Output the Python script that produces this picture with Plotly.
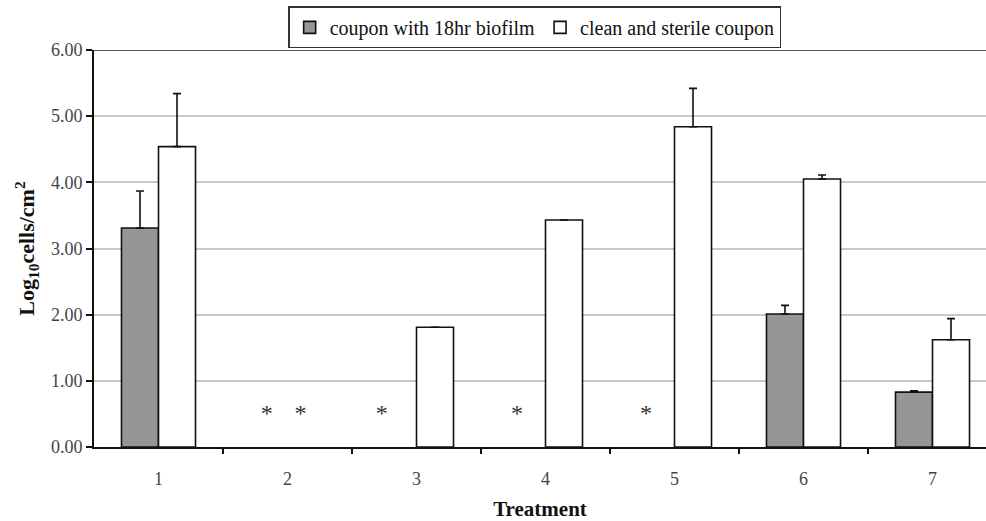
import plotly.graph_objects as go

treatments = [1, 2, 3, 4, 5, 6, 7]
tick_labels = ["1", "2", "3", "4", "5", "6", "7"]
biofilm = [3.31, None, None, None, None, 2.01, 0.83]
biofilm_err = [0.56, 0, 0, 0, 0, 0.13, 0.02]
clean = [4.54, None, 1.81, 3.43, 4.84, 4.05, 1.62]
clean_err = [0.80, 0, 0, 0, 0.58, 0.06, 0.32]
asterisk_x = [1.84, 2.10, 2.73, 3.78, 4.78]
asterisk_y = [0.48, 0.48, 0.48, 0.48, 0.48]

FONT = "Liberation Serif, Times New Roman, serif"

fig = go.Figure()
fig.add_trace(go.Bar(
    x=treatments, y=biofilm, name="coupon with 18hr biofilm",
    marker=dict(color="#969696", line=dict(color="#111111", width=1.6)),
    error_y=dict(type="data", array=biofilm_err, symmetric=False,
                 arrayminus=[0] * 7, color="#111111", thickness=1.6, width=4),
))
fig.add_trace(go.Bar(
    x=treatments, y=clean, name="clean and sterile coupon",
    marker=dict(color="#ffffff", line=dict(color="#111111", width=1.6)),
    error_y=dict(type="data", array=clean_err, symmetric=False,
                 arrayminus=[0] * 7, color="#111111", thickness=1.6, width=4),
))
fig.add_trace(go.Scatter(
    x=asterisk_x, y=asterisk_y, mode="text", text=["*"] * len(asterisk_x),
    textfont=dict(family=FONT, size=24, color="#333333"),
    showlegend=False, hoverinfo="skip",
))

fig.add_shape(type="line", xref="paper", yref="y", x0=0, x1=1, y0=6, y1=6,
              line=dict(color="#555555", width=2))

fig.update_layout(
    width=986, height=521,
    margin=dict(l=94, r=0, t=50, b=74),
    plot_bgcolor="white", paper_bgcolor="white",
    barmode="group", bargap=0.426, bargroupgap=0,
    font=dict(family=FONT, color="#333333", size=18),
    legend=dict(orientation="h", x=0.494, xanchor="center", y=1.11, yanchor="top",
                bordercolor="#333333", borderwidth=1.5,
                font=dict(family=FONT, size=20, color="#111111"),
                itemwidth=30, tracegroupgap=0, bgcolor="white"),
    xaxis=dict(
        range=[0.5, 0.5 + (986 - 94) / 129],
        tickvals=treatments, ticktext=tick_labels,
        ticks="", ticklabelstandoff=14,
        tickfont=dict(family=FONT, size=18, color="#444444"),
        showline=True, linecolor="#111111", linewidth=2,
        showgrid=False, zeroline=False,
        minor=dict(tickvals=[1.5, 2.5, 3.5, 4.5, 5.5, 6.5], ticks="outside",
                   ticklen=5, tickwidth=2, tickcolor="#111111", showgrid=False),
        title=dict(text="<b>Treatment</b>", standoff=16,
                   font=dict(family=FONT, size=21, color="#111111")),
    ),
    yaxis=dict(
        range=[0, 6], tickvals=[0, 1, 2, 3, 4, 5, 6], tickformat=".2f",
        ticks="outside", ticklen=6, tickwidth=2, tickcolor="#111111",
        tickfont=dict(family=FONT, size=18, color="#444444"),
        showline=True, linecolor="#111111", linewidth=2,
        showgrid=True, gridcolor="#c8c8c8", gridwidth=1.5, zeroline=False,
        title=dict(text="<b>Log<sub>10</sub>cells/cm<sup>2</sup></b>", standoff=10,
                   font=dict(family=FONT, size=22, color="#111111")),
    ),
)

fig.write_html("out.html")
